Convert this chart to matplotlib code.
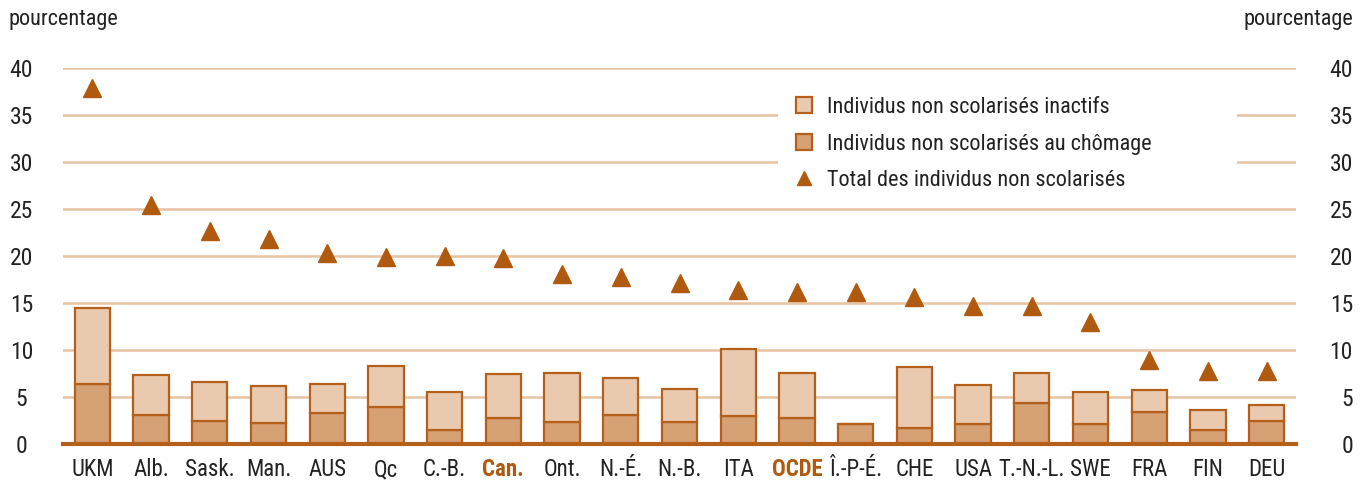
import matplotlib
matplotlib.use("Agg")
import matplotlib.pyplot as plt
from matplotlib.patches import Patch, Rectangle
from matplotlib.lines import Line2D
import numpy as np

categories = ["UKM", "Alb.", "Sask.", "Man.", "AUS", "Qc", "C.-B.", "Can.", "Ont.", "N.-É.",
              "N.-B.", "ITA", "OCDE", "Î.-P-É.", "CHE", "USA", "T.-N.-L.", "SWE", "FRA", "FIN", "DEU"]
chomage = [6.4, 3.1, 2.4, 2.2, 3.3, 3.9, 1.5, 2.8, 2.3, 3.1, 2.3, 3.0, 2.8, 2.1, 1.7, 2.1, 4.4, 2.1, 3.4, 1.5, 2.5]
inactifs_total = [14.5, 7.3, 6.6, 6.2, 6.4, 8.3, 5.5, 7.4, 7.6, 7.0, 5.9, 10.1, 7.6, 2.1, 8.2, 6.3, 7.6, 5.5, 5.7, 3.6, 4.2]
total = [37.9, 25.4, 22.7, 21.8, 20.3, 19.9, 20.0, 19.8, 18.1, 17.8, 17.1, 16.4, 16.2, 16.2, 15.6, 14.7, 14.7, 13.0, 8.9, 7.8, 7.8]
inactifs = [t - c for t, c in zip(inactifs_total, chomage)]
highlight = ["Can.", "OCDE"]
yticks = [0, 5, 10, 15, 20, 25, 30, 35, 40]

plt.rcParams["font.family"] = ["Roboto Condensed", "DejaVu Sans"]

LIGHT = "#EACAAF"
DARK = "#D6A175"
EDGE = "#B5601A"
TRI = "#B05A10"
GRID = "#E8C3A2"
TEXT = "#222222"

W, H = 1364, 483
fig = plt.figure(figsize=(W / 100, H / 100), dpi=100)
ax = fig.add_axes([63 / W, 1 - 444 / H, (1296 - 63) / W, (444 - 68) / H])

x = np.arange(len(categories))
ax.bar(x, chomage, width=0.6, color=DARK, edgecolor=EDGE, linewidth=1.6, zorder=3)
ax.bar(x, inactifs, bottom=chomage, width=0.6, color=LIGHT, edgecolor=EDGE, linewidth=1.6, zorder=3)
ax.plot(x, total, linestyle="none", marker="^", markersize=12.5, color=TRI, zorder=4)

ax.set_xlim(-0.5, len(categories) - 0.5)
ax.set_ylim(0, 40)
ax.set_yticks(yticks)
for yv in yticks[1:]:
    ax.axhline(yv, color=GRID, linewidth=1.8, zorder=1)
for s in ["top", "left", "right"]:
    ax.spines[s].set_visible(False)
ax.spines["bottom"].set_color(EDGE)
ax.spines["bottom"].set_linewidth(3)
ax.spines["bottom"].set_zorder(5)

ax.tick_params(axis="y", length=0, labelsize=17, labelcolor=TEXT, pad=30)
for lbl in ax.get_yticklabels():
    lbl.set_ha("center")

ax2 = ax.twinx()
ax2.set_ylim(ax.get_ylim())
ax2.set_yticks(yticks)
for s in ["top", "left", "right", "bottom"]:
    ax2.spines[s].set_visible(False)
ax2.tick_params(axis="y", length=0, labelsize=17, labelcolor=TEXT, pad=41)
for lbl in ax2.get_yticklabels():
    lbl.set_ha("right")

ax.set_xticks(x)
ax.set_xticklabels(categories)
ax.tick_params(axis="x", length=0, labelsize=16.5, labelcolor=TEXT, pad=10)
for lbl in ax.get_xticklabels():
    if lbl.get_text() in highlight:
        lbl.set_color(TRI)
        lbl.set_fontweight("bold")

fig.text(8 / W, 1 - 20 / H, "pourcentage", fontsize=16, color=TEXT, ha="left", va="center")
fig.text(1353 / W, 1 - 20 / H, "pourcentage", fontsize=16, color=TEXT, ha="right", va="center")

# white area behind the legend, interrupting the gridlines
fig.add_artist(Rectangle((778 / W, 1 - 200 / H), (1237 - 778) / W, 125 / H,
                         transform=fig.transFigure, facecolor="white", edgecolor="none", zorder=2))

handles = [Patch(facecolor=LIGHT, edgecolor=EDGE, linewidth=1.6),
           Patch(facecolor=DARK, edgecolor=EDGE, linewidth=1.6),
           Line2D([], [], linestyle="none", marker="^", markersize=10.5, color=TRI)]
labels = ["Individus non scolarisés inactifs", "Individus non scolarisés au chômage",
          "Total des individus non scolarisés"]
leg = fig.legend(handles, labels, loc="upper left", bbox_to_anchor=(796 / W, 1 - 97 / H),
                 frameon=False, fontsize=16, handlelength=0.7, handleheight=0.7,
                 handletextpad=0.7, labelspacing=0.7, borderpad=0, borderaxespad=0)
for t in leg.get_texts():
    t.set_color(TEXT)
leg.set_zorder(6)

fig.savefig("out.png", dpi=100)
